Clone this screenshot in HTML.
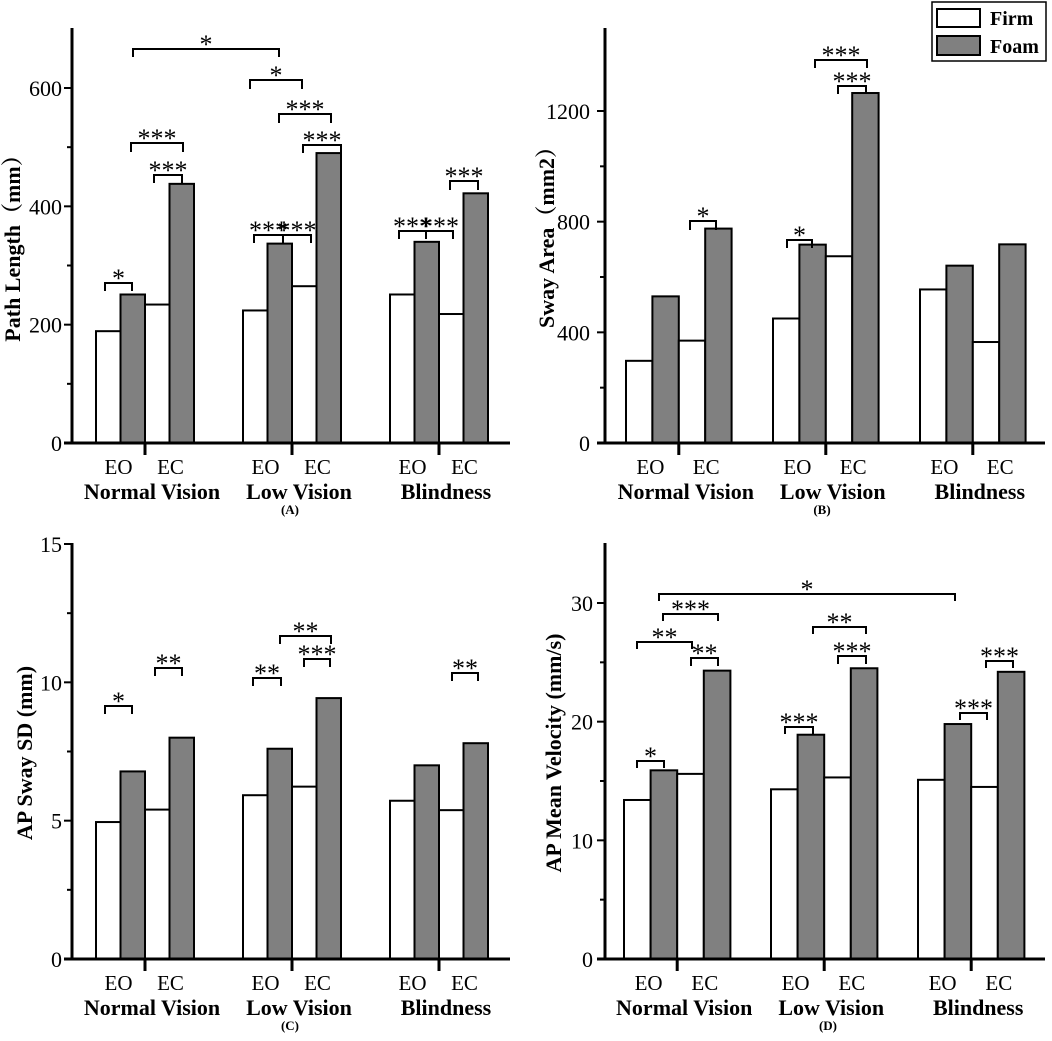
<!DOCTYPE html>
<html><head><meta charset="utf-8"><style>
html,body{margin:0;padding:0;background:#fff}
svg{display:block}
text{font-family:"Liberation Serif","Noto Serif CJK SC",serif;fill:#000}
</style></head><body>
<svg id="fig" width="1052" height="1041" viewBox="0 0 1052 1041">
<g id="legend">
<rect x="932" y="2" width="114" height="59" fill="#fff" stroke="#000" stroke-width="1.5"/>
<rect x="937" y="9" width="43" height="18" fill="#fff" stroke="#000" stroke-width="2"/>
<text x="990" y="25" font-size="20" font-weight="bold">Firm</text>
<rect x="937" y="36" width="43" height="19" fill="#808080" stroke="#000" stroke-width="2"/>
<text x="990" y="53" font-size="20" font-weight="bold">Foam</text>
</g>
</svg>
<script>
const groups = ["Normal Vision", "Low Vision", "Blindness"];
const conditions = ["EO", "EC"];
// values per group: [EO firm, EO foam, EC firm, EC foam]
const pathFirm = [189, 234, 224, 265, 251, 218];
const pathFoam = [251, 438, 337, 490, 340, 422];
const swayFirm = [297, 370, 450, 675, 555, 365];
const swayFoam = [530, 775, 717, 1265, 641, 718];
const sdFirm = [4.95, 5.4, 5.92, 6.23, 5.72, 5.38];
const sdFoam = [6.78, 8.0, 7.6, 9.43, 7.0, 7.8];
const velFirm = [13.4, 15.6, 14.3, 15.3, 15.1, 14.5];
const velFoam = [15.9, 24.3, 18.9, 24.5, 19.8, 24.2];
const ticksA = [0, 200, 400, 600], minorA = [100, 300, 500];
const ticksB = [0, 400, 800, 1200], minorB = [200, 600, 1000];
const ticksC = [0, 5, 10, 15], minorC = [2.5, 7.5, 12.5];
const ticksD = [0, 10, 20, 30], minorD = [5, 15, 25];
// significance brackets: [x1, x2, y, drop-left, drop-right, label] (annotation geometry)
const sigA = [[133,279,49,8,8,"*"],[250,302,80,9,9,"*"],[279,331,114,9,9,"***"],[303,341,145,8,8,"***"],[131,183,143,9,9,"***"],[154,182,175,8,8,"***"],[105,132,283,8,8,"*"],[254,283,235,8,8,"***"],[283,311,235,8,8,"***"],[399,426,231,8,8,"***"],[426,453,231,8,8,"***"],[450,478,181,9,9,"***"]];
const sigB = [[690,716,221,9,9,"*"],[787,812,240,8,8,"*"],[838,866,86,8,8,"***"],[815,867,60,8,8,"***"]];
const sigC = [[105,132,706,8,8,"*"],[155,182,668,8,8,"**"],[253,281,678,8,8,"**"],[304,330,659,8,8,"***"],[280,331,636,8,8,"**"],[452,478,673,8,8,"**"]];
const sigD = [[659,955,594,7,7,"*"],[663,718,614,7,7,"***"],[637,692,642,7,7,"**"],[691,718,658,8,8,"**"],[637,664,761,7,7,"*"],[813,866,627,7,7,"**"],[838,866,656,8,8,"***"],[785,813,727,7,7,"***"],[960,987,713,7,7,"***"],[986,1013,661,7,7,"***"]];

const NS = "http://www.w3.org/2000/svg";
const svg = document.getElementById("fig");
function mk(tag, attrs, parent, txt) {
  const e = document.createElementNS(NS, tag);
  for (const k in attrs) e.setAttribute(k, attrs[k]);
  if (txt !== undefined) e.textContent = txt;
  (parent || svg).appendChild(e);
  return e;
}
function panel(cfg) {
  const g = mk("g", {});
  
  
  const y = v => cfg.base - (v - 0) * cfg.k;
  const bx = (gi, j) => cfg.g0 + gi * 147 + j * cfg.bw;
  for (let gi = 0; gi < 3; gi++) {
    for (let c = 0; c < 2; c++) {
      const idx = gi * 2 + c;
      const vals = [cfg.firm[idx], cfg.foam[idx]];
      for (let s = 0; s < 2; s++) {
        const x = bx(gi, c * 2 + s), top = y(vals[s]);
        const r = mk("rect", {x: x, y: top, width: cfg.bw, height: cfg.base - top, fill: s ? "#808080" : "#fff", stroke: "#000", "stroke-width": 2}, g);
        
        
      }
    }
  }
  const ya = mk("line", {x1: cfg.ax, y1: cfg.top, x2: cfg.ax, y2: cfg.base + 1.5, stroke: "#000", "stroke-width": 3}, g);
  
  
  const xa = mk("line", {x1: cfg.ax - 8, y1: cfg.base, x2: cfg.right, y2: cfg.base, stroke: "#000", "stroke-width": 3}, g);
  
  
  cfg.ticks.forEach(t => {
    mk("line", {x1: cfg.ax - 8, y1: y(t), x2: cfg.ax, y2: y(t), stroke: "#000", "stroke-width": 2}, g);
    const tl = mk("text", {x: cfg.ax - cfg.tlo, y: y(t) + 8, "font-size": 22, "text-anchor": "end"}, g, String(t));
    
    
  });
  cfg.minor.forEach(t => mk("line", {x1: cfg.ax - 5, y1: y(t), x2: cfg.ax, y2: y(t), stroke: "#000", "stroke-width": 2}, g));
  for (let gi = 0; gi < 3; gi++) {
    const sx = bx(gi, 2);
    mk("line", {x1: sx, y1: cfg.base, x2: sx, y2: cfg.base + 12, stroke: "#000", "stroke-width": 3}, g);
    for (let c = 0; c < 2; c++) {
      const cl = mk("text", {x: bx(gi, c * 2 + 1) - (c ? -1 : 2), y: cfg.base + 31, "font-size": 21, "text-anchor": "middle"}, g, conditions[c]);
      
      
    }
    const gl = mk("text", {x: sx + 7, y: cfg.base + 56, "font-size": 22, "font-weight": "bold", "text-anchor": "middle"}, g, groups[gi]);
    
    
  }
  const yt = mk("text", {x: 0, y: 0, "font-size": 22, "font-weight": "bold", "text-anchor": "middle", transform: "translate(" + cfg.tx + "," + cfg.ty + ") rotate(-90)"}, g, cfg.title);
  
  
  const pl = mk("text", {x: cfg.px, y: cfg.base + 71, "font-size": 13, "font-weight": "bold", "text-anchor": "middle"}, g, cfg.label);
  
  
  cfg.sig.forEach(s => {
    const p = mk("path", {d: "M" + s[0] + "," + (s[2] + s[3]) + "V" + s[2] + "H" + s[1] + "V" + (s[2] + s[4]), fill: "none", stroke: "#000", "stroke-width": 2}, g);
    
    
    const st = mk("text", {x: (s[0] + s[1]) / 2, y: s[2] + 4, "font-size": 26, "text-anchor": "middle"}, g, s[5]);
    
    
  });
}
panel({name: "panel-a-path-length", firm: pathFirm, foam: pathFoam, ax: 72, base: 443, top: 28, right: 510, k: 355 / 600, g0: 96, bw: 24.5, tlo: 10, ticks: ticksA, minor: minorA, title: "Path Length（mm）", tx: 20, ty: 243, label: "(A)", px: 290, sig: sigA});
panel({name: "panel-b-sway-area", firm: swayFirm, foam: swayFoam, ax: 605, base: 443, top: 28, right: 1045, k: 332 / 1200, g0: 626, bw: 26.4, tlo: 15, ticks: ticksB, minor: minorB, title: "Sway Area（mm2）", tx: 554, ty: 232, label: "(B)", px: 822, sig: sigB});
panel({name: "panel-c-ap-sway-sd", firm: sdFirm, foam: sdFoam, ax: 72, base: 959, top: 543, right: 510, k: 415 / 15, g0: 96, bw: 24.5, tlo: 10, ticks: ticksC, minor: minorC, title: "AP Sway SD (mm)", tx: 32, ty: 753, label: "(C)", px: 290, sig: sigC});
panel({name: "panel-d-ap-mean-velocity", firm: velFirm, foam: velFoam, ax: 605, base: 959, top: 543, right: 1045, k: 356 / 30, g0: 624, bw: 26.6, tlo: 12, ticks: ticksD, minor: minorD, title: "AP Mean Velocity (mm/s)", tx: 561, ty: 753, label: "(D)", px: 828, sig: sigD});
svg.appendChild(document.getElementById("legend"));
</script>
</body></html>
